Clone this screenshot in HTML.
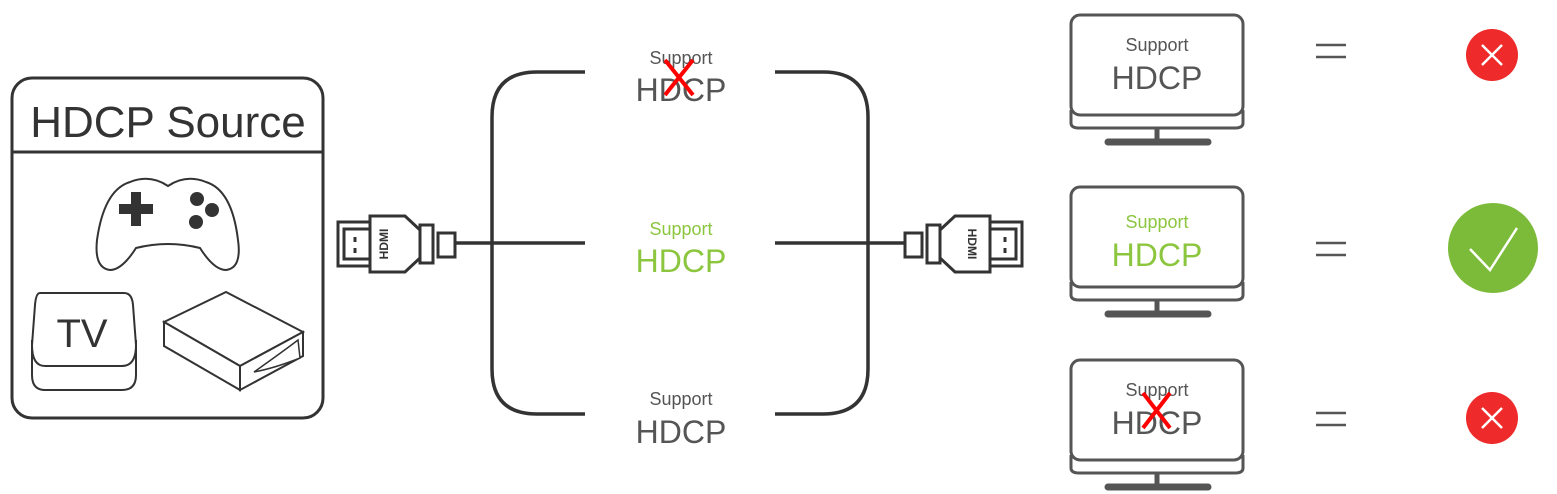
<!DOCTYPE html>
<html><head><meta charset="utf-8"><style>
html,body{margin:0;padding:0;background:#fff;}
svg{display:block;font-family:"Liberation Sans","DejaVu Sans",sans-serif;}
</style></head><body>
<svg width="1557" height="494" viewBox="0 0 1557 494" xmlns="http://www.w3.org/2000/svg">
<defs>
<g id="conn" fill="#fff" stroke="#333" stroke-width="3">
  <rect x="0" y="-11" width="17" height="24"/>
  <rect x="22" y="-19" width="13" height="38"/>
  <polygon points="35,-14 50,-28 85,-28 85,28 50,28 35,14"/>
  <rect x="85" y="-22" width="32" height="44"/>
  <rect x="85" y="-15" width="26" height="30"/>
  <line x1="100" y1="-7" x2="100" y2="-2"/>
  <line x1="100" y1="4" x2="100" y2="9"/>
</g>
<g id="mon" fill="#fff" stroke="#555" stroke-width="3">
  <path d="M0,95 L0,108 Q0,113 8,113 L164,113 Q172,113 172,108 L172,95"/>
  <rect x="0" y="0" width="172" height="100" rx="9"/>
  <line x1="86" y1="113" x2="86" y2="125" stroke-width="5"/>
  <line x1="37" y1="127" x2="137" y2="127" stroke-width="7" stroke-linecap="round"/>
</g>
</defs>

<!-- Source box -->
<rect x="12" y="78" width="311" height="340" rx="20" fill="none" stroke="#333" stroke-width="3"/>
<line x1="12" y1="152" x2="323" y2="152" stroke="#333" stroke-width="3"/>
<text x="168" y="137" text-anchor="middle" font-size="44" fill="#333">HDCP Source</text>
<!-- gamepad -->
<path d="M130,182 Q150,174 168,186 Q186,174 206,182 Q232,190 238,240 Q242,268 226,270 Q214,270 200,248 Q168,240 136,248 Q122,270 110,270 Q94,268 97,240 Q104,190 130,182 Z" fill="#fff" stroke="#333" stroke-width="2"/>
<rect x="119" y="204" width="34" height="10" fill="#333"/>
<rect x="131" y="192" width="10" height="34" fill="#333"/>
<circle cx="197" cy="199" r="7" fill="#333"/>
<circle cx="212" cy="210" r="7" fill="#333"/>
<circle cx="196" cy="222" r="7" fill="#333"/>
<!-- TV box -->
<path d="M32,340 L32,375 Q32,390 45,390 L122,390 Q136,390 136,375 L136,340" fill="#fff" stroke="#333" stroke-width="2"/>
<path d="M40,293 L124,293 Q132,293 133,305 L136,345 Q136,366 122,366 L45,366 Q32,366 32,345 L35,305 Q36,293 40,293 Z" fill="#fff" stroke="#333" stroke-width="2"/>
<text x="82" y="347" text-anchor="middle" font-size="40" fill="#333">TV</text>
<!-- player box -->
<polygon points="164,322 226,292 303,332 240,366" fill="#fff" stroke="#333" stroke-width="2"/>
<polygon points="164,322 240,366 240,390 164,346" fill="#fff" stroke="#333" stroke-width="2"/>
<polygon points="240,366 303,332 303,356 240,390" fill="#fff" stroke="#333" stroke-width="2"/>
<path d="M254,372 Q275,368 300,358 L298,340 Q285,350 254,372Z" fill="#fff" stroke="#333" stroke-width="1.5"/>

<!-- left connector -->
<g transform="translate(455,244) scale(-1,1)"><use href="#conn"/></g>
<text transform="translate(384,244) rotate(-90)" text-anchor="middle" font-size="12" font-weight="bold" fill="#333" dy="4">HDMI</text>
<!-- right connector -->
<g transform="translate(905,244)"><use href="#conn"/></g>
<text transform="translate(972,244) rotate(90)" text-anchor="middle" font-size="12" font-weight="bold" fill="#333" dy="4">HDMI</text>

<!-- brackets -->
<g fill="none" stroke="#333" stroke-width="3.5">
<path d="M585,72 L537,72 Q492,72 492,117 L492,369 Q492,414 537,414 L585,414"/>
<line x1="455" y1="243" x2="585" y2="243"/>
<path d="M775,72 L823,72 Q868,72 868,117 L868,369 Q868,414 823,414 L775,414"/>
<line x1="775" y1="243" x2="905" y2="243"/>
</g>

<!-- middle labels -->
<g text-anchor="middle" fill="#555">
<text x="681" y="64" font-size="18">Support</text>
<text x="681" y="101" font-size="32">HDCP</text>
<text x="681" y="235" font-size="18" fill="#8cc63f">Support</text>
<text x="681" y="272" font-size="32" fill="#8cc63f">HDCP</text>
<text x="681" y="405" font-size="18">Support</text>
<text x="681" y="443" font-size="32">HDCP</text>
</g>
<g stroke="#f00" stroke-width="4"><line x1="665" y1="60" x2="693" y2="95"/><line x1="693" y1="60" x2="665" y2="95"/></g>

<!-- monitors -->
<use href="#mon" x="1071" y="15"/>
<use href="#mon" x="1071" y="187"/>
<use href="#mon" x="1071" y="360"/>
<g text-anchor="middle" fill="#555">
<text x="1157" y="51" font-size="18">Support</text>
<text x="1157" y="89" font-size="32">HDCP</text>
<text x="1157" y="228" font-size="18" fill="#8cc63f">Support</text>
<text x="1157" y="266" font-size="32" fill="#8cc63f">HDCP</text>
<text x="1157" y="396" font-size="18">Support</text>
<text x="1157" y="434" font-size="32">HDCP</text>
</g>
<g stroke="#f00" stroke-width="4"><line x1="1143" y1="393" x2="1170" y2="428"/><line x1="1170" y1="393" x2="1143" y2="428"/></g>

<!-- equals -->
<g stroke="#555" stroke-width="2.5">
<line x1="1316" y1="45" x2="1346" y2="45"/><line x1="1316" y1="57" x2="1346" y2="57"/>
<line x1="1316" y1="243" x2="1346" y2="243"/><line x1="1316" y1="255" x2="1346" y2="255"/>
<line x1="1316" y1="413" x2="1346" y2="413"/><line x1="1316" y1="425" x2="1346" y2="425"/>
</g>

<!-- results -->
<circle cx="1492" cy="55" r="26" fill="#ee2a2a"/>
<g stroke="#fff" stroke-width="2.5"><line x1="1482" y1="45" x2="1502" y2="65"/><line x1="1502" y1="45" x2="1482" y2="65"/></g>
<circle cx="1493" cy="248" r="45" fill="#7cbb3a"/>
<polyline points="1470,249 1490,270 1517,228" fill="none" stroke="#fff" stroke-width="2.5"/>
<circle cx="1492" cy="418" r="26" fill="#ee2a2a"/>
<g stroke="#fff" stroke-width="2.5"><line x1="1482" y1="408" x2="1502" y2="428"/><line x1="1502" y1="408" x2="1482" y2="428"/></g>
</svg>
</body></html>
